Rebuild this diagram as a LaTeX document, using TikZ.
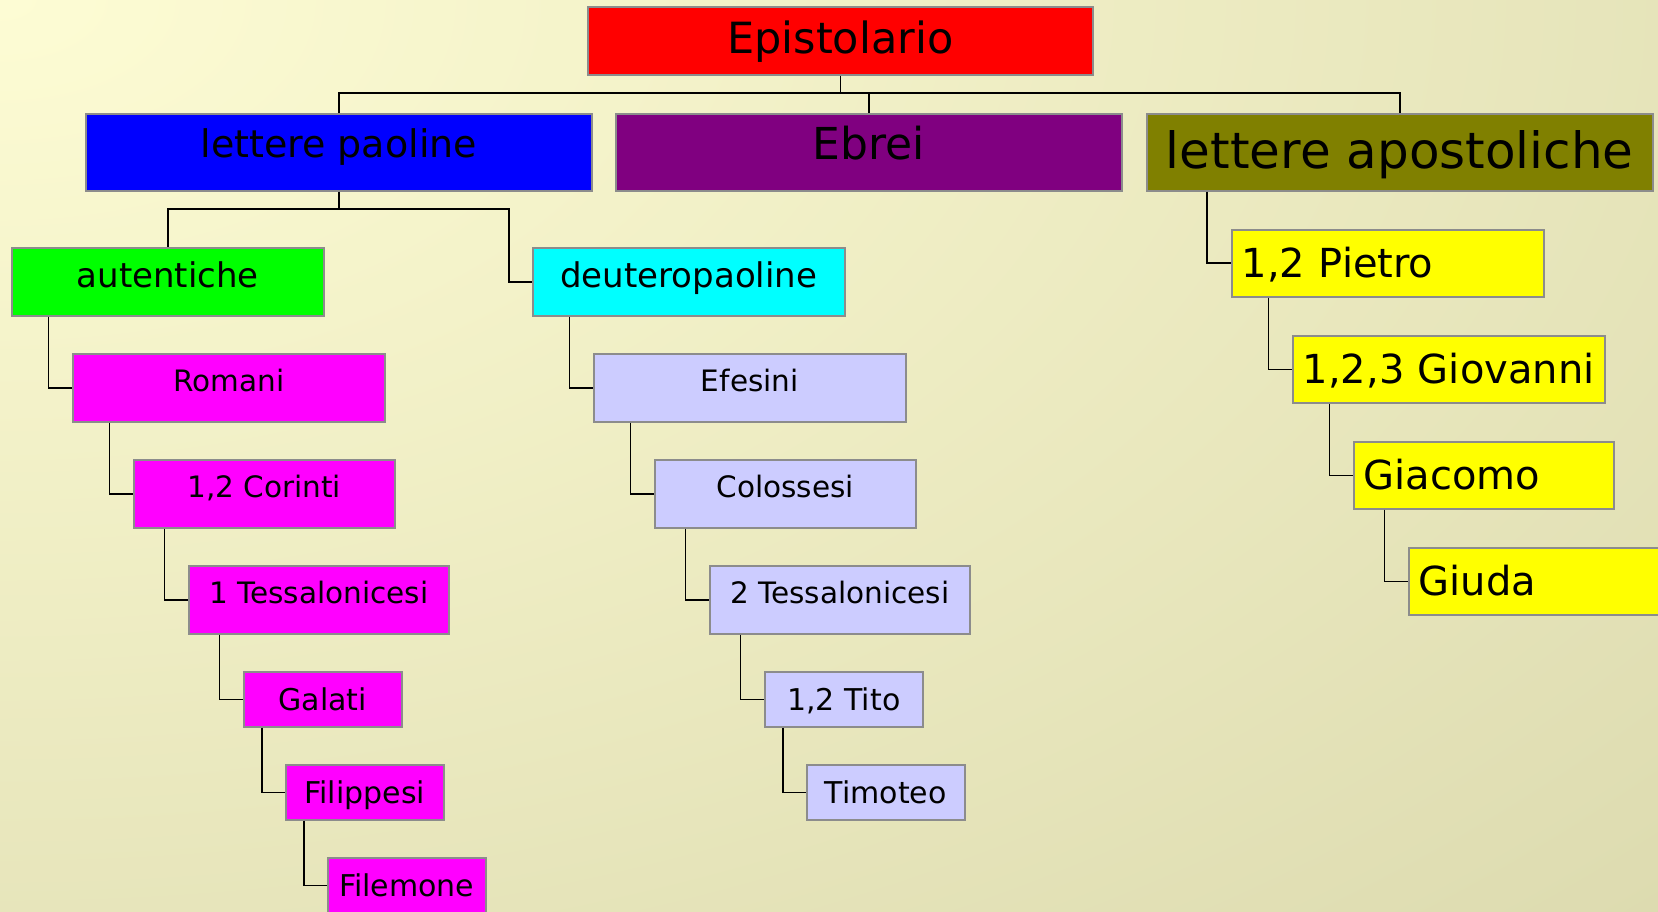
\documentclass[tikz,border=0pt]{standalone}
\usepackage{fontspec}
\setmainfont{DejaVu Sans}
\usepackage{xcolor}
\usepackage{tikz}
\usetikzlibrary{calc}
\definecolor{bgA}{RGB}{253,252,212}
\definecolor{bgB}{RGB}{214,212,168}
\definecolor{boxline}{RGB}{140,140,140}
\definecolor{paolBlue}{RGB}{0,0,255}
\definecolor{ebrPurple}{RGB}{128,0,128}
\definecolor{aposOlive}{RGB}{128,128,0}
\definecolor{autGreen}{RGB}{0,255,0}
\definecolor{deutCyan}{RGB}{0,255,255}
\definecolor{pinkBox}{RGB}{255,0,255}
\definecolor{lilaBox}{RGB}{204,204,255}
\definecolor{yelBox}{RGB}{255,255,0}
\tikzset{%Global config
	>=latex,
	color = black ,
	%Styles
	Box/.style={
		draw=boxline,
		line width=1.6pt,
		inner sep=0pt,
		anchor=north west,
		align=center,
	},
	Top/.style={
		Box,
		fill=red,
		minimum width=505pt,
		minimum height=68pt,
		font=\fontsize{43}{48}\selectfont,
		text height=33pt, text depth=7pt,
	},
	Big/.style={
		Box,
		minimum width=506pt,
		minimum height=77pt,
		font=\fontsize{38}{44}\selectfont,
		text height=25.5pt, text depth=14.5pt,
	},
	Mid/.style={
		Box,
		minimum width=312pt,
		minimum height=68pt,
		font=\fontsize{34}{40}\selectfont,
		text height=26pt, text depth=14pt,
	},
	Leaf/.style={
		Box,
		minimum height=68pt,
		font=\fontsize{29.5}{34}\selectfont,
		text height=24pt, text depth=16pt,
	},
	Small/.style={
		Box,
		minimum width=158pt,
		minimum height=55pt,
		font=\fontsize{30}{34}\selectfont,
		text height=31pt, text depth=9pt,
	},
	Yel/.style={
		Box,
		fill=yelBox,
		align=left,
		inner xsep=10pt,
		minimum height=67pt,
		font=\fontsize{40}{44}\selectfont,
		text height=34pt, text depth=6pt,
	},
	Link/.style={
		draw=black,
		line width=1.6pt,
	}
}

\begin{document}
\begin{tikzpicture}[x=1pt,y=-1pt]
	\useasboundingbox (0,0) rectangle (1658,912);
	\clip (0,0) rectangle (1658,912);
	\shade[inner color=bgA, outer color=bgB] (-2800,-1600) rectangle (2800,1600); % Background

	\node[Top] (epi) at (587,6) {Epistolario};
	\node[Big, fill=paolBlue] (paol) at (85,113) {lettere paoline};
	\node[Big, fill=ebrPurple, font=\fontsize{44}{48}\selectfont, text height=27.5pt, text depth=12.5pt] (ebr) at (615,113) {Ebrei};
	\node[Big, fill=aposOlive, font=\fontsize{50}{56}\selectfont, text height=36.5pt, text depth=3.5pt] (apos) at (1146,113) {lettere apostoliche};

	\node[Mid, fill=autGreen] (aut) at (11,247) {autentiche};
	\node[Mid, fill=deutCyan] (deut) at (532,247) {deuteropaoline};

	% autentiche
	\node[Leaf, fill=pinkBox, minimum width=312pt] (rom) at (72,353) {Romani};
	\node[Leaf, fill=pinkBox, minimum width=261pt] (cor) at (133,459) {1,2 Corinti};
	\node[Leaf, fill=pinkBox, minimum width=260pt] (tes1) at (188,565) {1 Tessalonicesi};
	\node[Small, fill=pinkBox] (gal) at (243,671) {Galati};
	\node[Small, fill=pinkBox] (fil) at (285,764) {Filippesi};
	\node[Small, fill=pinkBox] (flm) at (327,857) {Filemone};

	% deuteropaoline
	\node[Leaf, fill=lilaBox, minimum width=312pt] (efe) at (593,353) {Efesini};
	\node[Leaf, fill=lilaBox, minimum width=261pt] (col) at (654,459) {Colossesi};
	\node[Leaf, fill=lilaBox, minimum width=260pt] (tes2) at (709,565) {2 Tessalonicesi};
	\node[Small, fill=lilaBox] (tit) at (764,671) {1,2 Tito};
	\node[Small, fill=lilaBox] (tim) at (806,764) {Timoteo};

	% apostoliche
	\node[Yel, text width=292pt] (pie) at (1231,229) {1,2 Pietro};
	\node[Yel, text width=292pt] (gio) at (1292,335) {\mbox{1,2,3 Giovanni}};
	\node[Yel, text width=240pt] (gia) at (1353,441) {Giacomo};
	\node[Yel, text width=292pt] (giu) at (1408,547) {Giuda};

	% Connectors
	\coordinate (bus) at (0,93);
	\coordinate (bus2) at (0,209);
	\draw[Link] (epi.south) -- (epi.south |- bus);
	\draw[Link] (paol.north) |- (apos.north |- bus) -- (apos.north);
	\draw[Link] (ebr.north) -- (ebr.north |- bus);
	\draw[Link] (paol.south) -- (paol.south |- bus2);
	\draw[Link] (aut.north) |- ($(deut.west |- bus2)+(-23,0)$) |- (deut.west);
	\foreach \p/\c in {aut/rom, rom/cor, cor/tes1, tes1/gal, gal/fil, fil/flm,
		deut/efe, efe/col, col/tes2, tes2/tit, tit/tim,
		apos/pie, pie/gio, gio/gia, gia/giu}
		\draw[Link] ($(\p.south west)!0.12!(\p.south east)$) |- (\c.west);
\end{tikzpicture}
\end{document}
